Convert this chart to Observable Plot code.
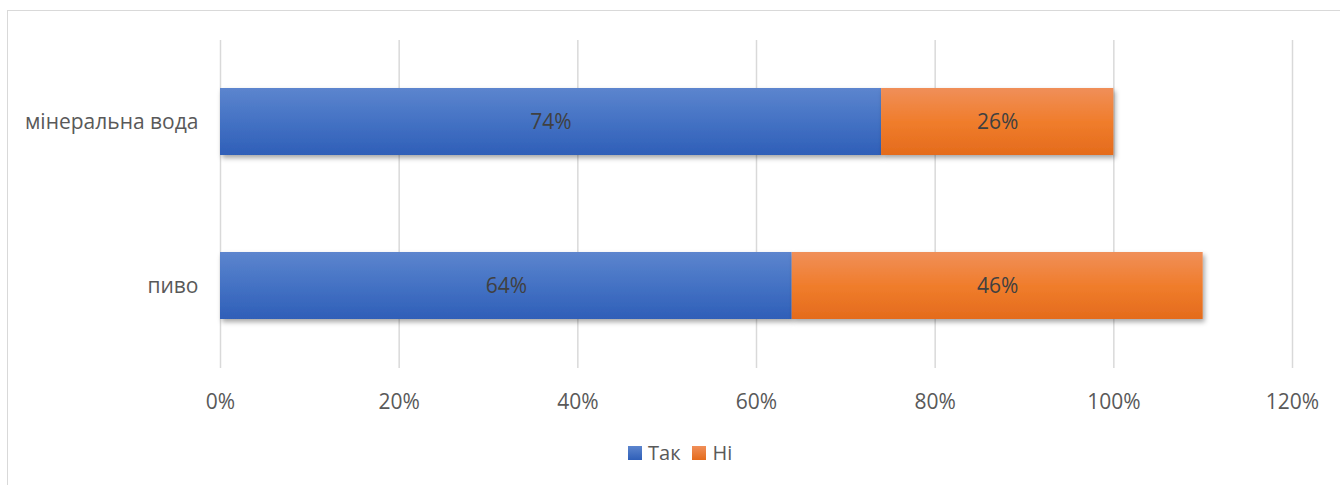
<!DOCTYPE html>
<html>
<head>
<meta charset="utf-8">
<script src="https://cdn.jsdelivr.net/npm/d3@7"></script>
<script src="https://cdn.jsdelivr.net/npm/@observablehq/plot@0.6"></script>
<style>
  html, body { margin: 0; padding: 0; background: #fff; width: 1340px; height: 485px; overflow: hidden; }
  #frame { position: absolute; left: 7px; top: 10px; width: 1345px; height: 490px; border: 1.5px solid #d9d9d9; box-sizing: border-box; }
  #chart { position: absolute; left: 0; top: 0; }
  #legend { position: absolute; left: 628px; top: 439px; display: flex; align-items: center; font-family: "Open Sans", sans-serif; font-size: 20px; color: #595959; }
  .sw { width: 14px; height: 14px; display: inline-block; margin-right: 6px; }
  .item { display: flex; align-items: center; margin-right: 12px; }
</style>
</head>
<body>
<div id="frame"></div>
<div id="chart"></div>
<div id="legend"></div>
<script>
const categories = ["мінеральна вода", "пиво"];
const seriesNames = ["Так", "Ні"];
const takValues = [0.74, 0.64];
const niValues = [0.26, 0.46];
const xTicks = [0, 0.2, 0.4, 0.6, 0.8, 1.0, 1.2];

const colors = {"Так": "url(#gBlue)", "Ні": "url(#gOrange)"};
const data = [];
categories.forEach((c, i) => {
  data.push({cat: c, series: "Так", value: takValues[i]});
  data.push({cat: c, series: "Ні", value: niValues[i]});
});

function defs() {
  const ns = "http://www.w3.org/2000/svg";
  const d = document.createElementNS(ns, "defs");
  d.innerHTML = `
    <linearGradient id="gBlue" x1="0" y1="0" x2="0" y2="1">
      <stop offset="0" stop-color="#5c85ce"/>
      <stop offset="0.5" stop-color="#4472c4"/>
      <stop offset="1" stop-color="#2f5fb8"/>
    </linearGradient>
    <linearGradient id="gOrange" x1="0" y1="0" x2="0" y2="1">
      <stop offset="0" stop-color="#f08f59"/>
      <stop offset="0.5" stop-color="#f07d2c"/>
      <stop offset="1" stop-color="#e46b1c"/>
    </linearGradient>
    <filter id="shadow" x="-5%" y="-20%" width="110%" height="160%">
      <feDropShadow dx="2" dy="3" stdDeviation="2.5" flood-color="#000" flood-opacity="0.35"/>
    </filter>`;
  return d;
}

const plot = Plot.plot({
  width: 1340,
  height: 430,
  marginLeft: 220,
  marginRight: 48,
  marginTop: 40,
  marginBottom: 62,
  style: {fontFamily: "'Open Sans', sans-serif", fontSize: "21px", color: "#595959", background: "transparent"},
  x: {domain: [0, 1.2], ticks: xTicks, tickFormat: d => Math.round(d * 100) + "%", label: null},
  y: {domain: categories, paddingInner: 0.59, paddingOuter: 0.295, label: null},
  marks: [
    defs,
    Plot.ruleX(xTicks, {stroke: "#d9d9d9", strokeWidth: 1.5}),
    Plot.barX(data, Plot.stackX({x: "value", y: "cat", z: "series", fill: d => colors[d.series]})),
    Plot.text(data, Plot.stackX({x: "value", y: "cat", z: "series", text: d => Math.round(d.value * 100) + "%", fill: "#404040", fontSize: 21})),
    Plot.axisX({ticks: xTicks, tickFormat: d => Math.round(d * 100) + "%", tickSize: 0, tickPadding: 26, fontSize: 21, fill: "#595959"}),
    Plot.axisY({tickSize: 0, tickPadding: 22, fontSize: 21, fill: "#595959"})
  ]
});
plot.querySelectorAll("g[aria-label='bar'] rect").forEach(r => r.setAttribute("filter", "url(#shadow)"));
document.getElementById("chart").appendChild(plot);

const leg = document.getElementById("legend");
const legColors = {"Так": "linear-gradient(#5c85ce, #2f5fb8)", "Ні": "linear-gradient(#f08f59, #e46b1c)"};
seriesNames.forEach(s => {
  const it = document.createElement("div");
  it.className = "item";
  it.innerHTML = `<span class="sw" style="background:${legColors[s]}"></span><span>${s}</span>`;
  leg.appendChild(it);
});
</script>
</body>
</html>
